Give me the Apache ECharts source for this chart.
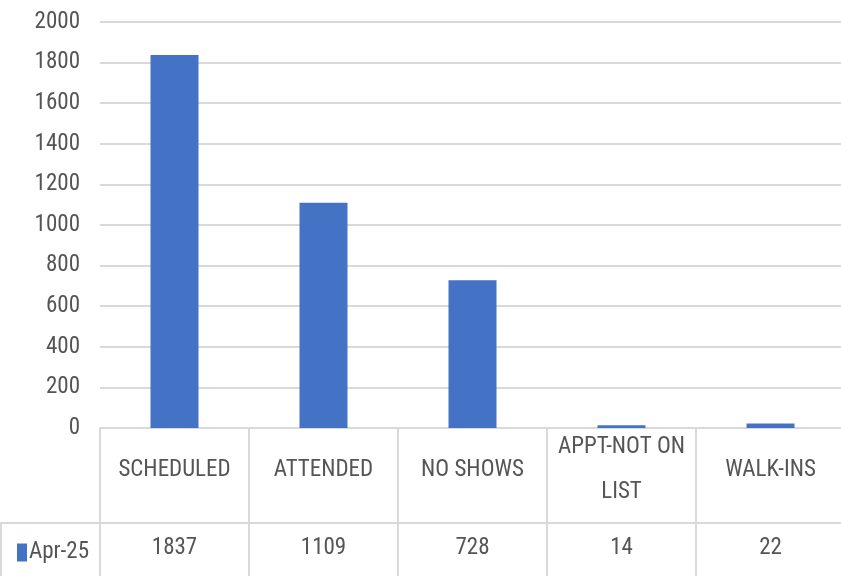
<!DOCTYPE html>
<html>
<head>
<meta charset="utf-8">
<script src="https://cdn.jsdelivr.net/npm/echarts@6/dist/echarts.min.js"></script>
<style>
  html, body { margin: 0; padding: 0; background: #fff; }
  #chart { width: 841px; height: 576px; }
</style>
</head>
<body>
<div id="chart"></div>
<script>
var categories = ['SCHEDULED', 'ATTENDED', 'NO SHOWS', 'APPT-NOT ON\nLIST', 'WALK-INS'];
var values = [1837, 1109, 728, 14, 22];
var seriesName = 'Apr-25';
var yTicks = [0, 200, 400, 600, 800, 1000, 1200, 1400, 1600, 1800, 2000];

var font = '"Roboto Condensed", "Liberation Sans Narrow", sans-serif';
var textColor = '#555555';
var lineColor = '#d9d9d9';

var chart = echarts.init(document.getElementById('chart'));

var option = {
    animation: false,
    textStyle: { fontFamily: font },
    // plot runs a little past the right edge, as in the source picture
    grid: { left: 100, width: 745, top: 22, height: 406, outerBoundsMode: 'none' },
    legend: {
        data: [seriesName],
        left: 12,
        top: 536,
        itemWidth: 10,
        itemHeight: 18,
        itemGap: 0,
        icon: 'rect',
        textStyle: { fontFamily: font, fontSize: 23, color: textColor, padding: [0, 0, 0, -3] }
    },
    xAxis: [{
        type: 'category',
        data: categories,
        axisLine: { lineStyle: { color: lineColor, width: 2 } },
        axisTick: { show: true, interval: 0, length: 148, lineStyle: { color: lineColor, width: 2 } },
        axisLabel: {
            interval: 0, margin: 42, verticalAlign: 'middle',
            fontFamily: font, fontSize: 23, color: textColor, lineHeight: 45
        }
    }, {
        type: 'category',
        data: categories,
        position: 'bottom',
        axisLine: { show: false },
        axisTick: { show: false },
        axisLabel: {
            interval: 0, margin: 120, verticalAlign: 'middle',
            fontFamily: font, fontSize: 23, color: textColor,
            formatter: function (v, i) { return String(values[i]); }
        }
    }],
    yAxis: {
        type: 'value',
        min: yTicks[0],
        max: yTicks[yTicks.length - 1],
        interval: 200,
        axisLine: { show: false },
        axisTick: { show: false },
        axisLabel: {
            margin: 20, fontFamily: font, fontSize: 23, color: textColor,
            formatter: function (v) { return String(v); }
        },
        splitLine: { lineStyle: { color: lineColor, width: 2 } }
    },
    graphic: [
        // separator between label row and value row of the data table
        { type: 'line', shape: { x1: 0, y1: 523, x2: 841, y2: 523 }, style: { stroke: lineColor, lineWidth: 2 } },
        { type: 'line', shape: { x1: 1, y1: 523, x2: 1, y2: 576 }, style: { stroke: lineColor, lineWidth: 2 } }
    ],
    series: [{
        name: seriesName,
        type: 'bar',
        barWidth: 48,
        itemStyle: { color: '#4472c4' },
        data: values
    }]
};

chart.setOption(option);
</script>
</body>
</html>
